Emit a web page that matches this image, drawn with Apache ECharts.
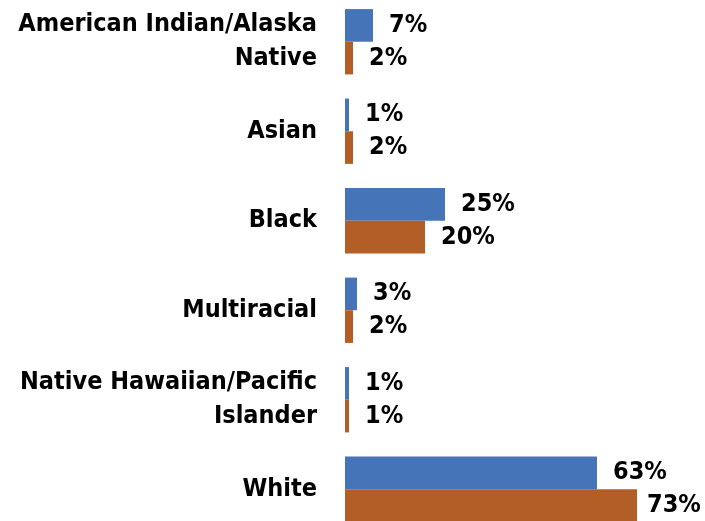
<!DOCTYPE html>
<html><head><meta charset="utf-8">
<script src="https://cdn.jsdelivr.net/npm/echarts@6/dist/echarts.min.js"></script>
<style>html,body{margin:0;padding:0;background:#fff;overflow:hidden}#c{position:absolute;left:0;top:-20px;width:705px;height:561px}</style>
</head><body><div id="c"></div>
<script>
const categories = ["American Indian/Alaska\nNative", "Asian", "Black", "Multiracial", "Native Hawaiian/Pacific\nIslander", "White"];
const seriesA = [7, 1, 25, 3, 1, 63];
const seriesB = [2, 2, 20, 2, 1, 73];
const FONT = "'Liberation Sans Narrow','DejaVu Sans Condensed','Roboto Condensed',sans-serif";
const chart = echarts.init(document.getElementById('c'), null, {renderer:'canvas'});
const lbl = {show:true, position:'right', distance:16, formatter:'{c}%', color:'#000', fontFamily:FONT, fontWeight:'bold', fontSize:25};
const dataB = seriesB.map((v, i) => i === seriesB.length - 1 ? {value:v, label:{distance:10}} : v);
chart.setOption({
  animation:false,
  grid:{left:345, top:17, height:537, right:0},
  xAxis:{type:'value', min:0, max:90, show:false},
  yAxis:{type:'category', data:categories, inverse:true,
    axisLine:{show:false}, axisTick:{show:false},
    axisLabel:{margin:28, color:'#000', fontFamily:FONT, fontWeight:'bold', fontSize:25, lineHeight:34, align:'right'}},
  series:[
    {type:'bar', data:seriesA, itemStyle:{color:'#4674B9'}, barCategoryGap:'27%', barGap:'0%', label:lbl},
    {type:'bar', data:dataB, itemStyle:{color:'#B45E27'}, barCategoryGap:'27%', barGap:'0%', label:lbl}
  ]
});
</script></body></html>
